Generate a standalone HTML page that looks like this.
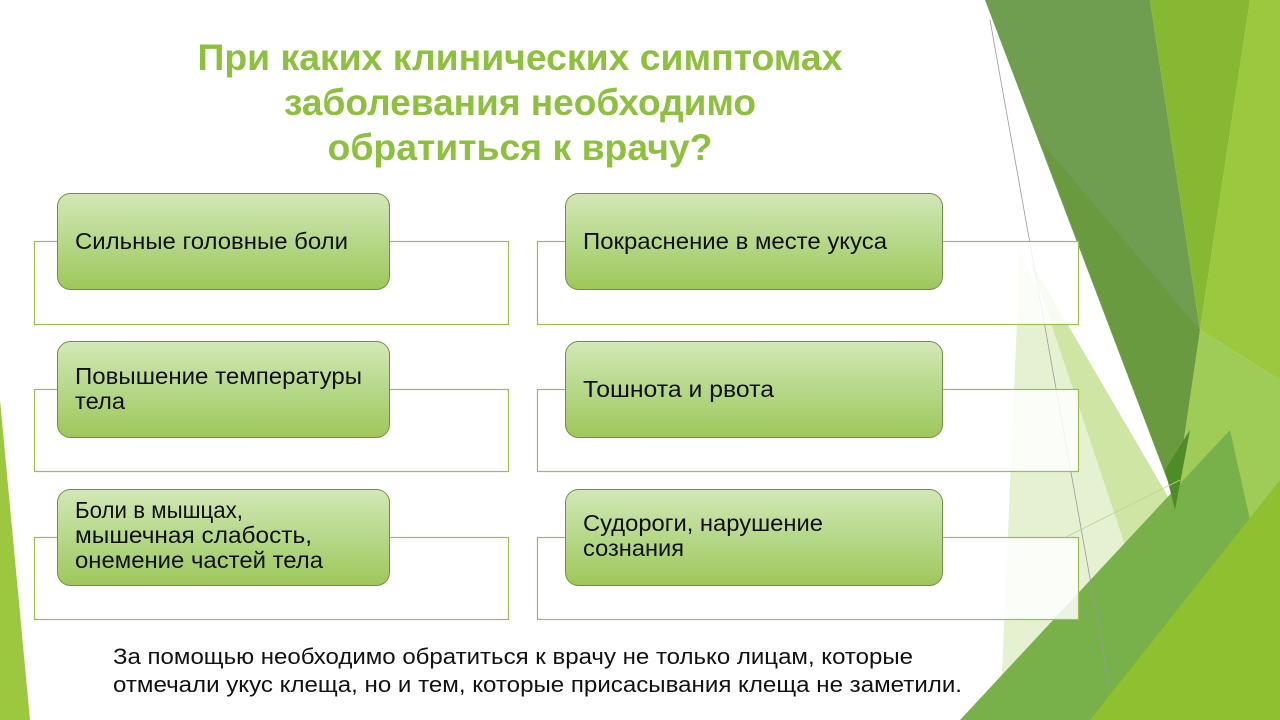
<!DOCTYPE html>
<html><head><meta charset="utf-8"><style>
html,body{margin:0;padding:0;background:#fff;}
svg{display:block;}
text{font-family:"Liberation Sans",sans-serif;}
</style></head><body>
<svg width="1280" height="720" viewBox="0 0 1280 720" xmlns="http://www.w3.org/2000/svg">
<defs>
<linearGradient id="g" x1="0" y1="0" x2="0" y2="1">
<stop offset="0" stop-color="#d3e8b7"/><stop offset="0.5" stop-color="#b6d889"/><stop offset="1" stop-color="#9ec75a"/>
</linearGradient>
</defs>
<polygon points="0,400 30,720 0,720" fill="#9bc83e"/>
<polygon points="1020,250 1150,560 1060,640 960,720 1000,720" fill="#e2efcb" opacity="0.9"/>
<polygon points="1030,260 1170,500 1130,560" fill="#cfe5a4"/>
<polygon points="985,0 1150,0 1200,330 1175,500" fill="#6f9e50"/>
<polygon points="1040,140 1200,330 1175,500" fill="#6a9a40"/>
<polygon points="1150,0 1250,0 1200,330" fill="#86b832"/>
<polygon points="1250,0 1280,0 1280,380 1200,330" fill="#9bc83e"/>
<polygon points="1200,330 1280,380 1280,720 1175,500" fill="#9fcc56"/>
<polygon points="960,720 1230,430 1250,520 1100,720" fill="#78b04a"/>
<polygon points="1165,470 1190,430 1175,510" fill="#4e8c28"/>
<polygon points="1090,720 1280,480 1280,720" fill="#8fc030"/>
<line x1="990" y1="20" x2="1110" y2="690" stroke="#999" stroke-width="0.8"/>
<line x1="1060" y1="540" x2="1180" y2="480" stroke="#bcd49a" stroke-width="0.8"/>
<g fill="#8dc03c" font-weight="bold" font-size="37" text-anchor="middle">
<text x="520" y="70" textLength="645" lengthAdjust="spacingAndGlyphs">При каких клинических симптомах</text>
<text x="520" y="115" textLength="472" lengthAdjust="spacingAndGlyphs">заболевания необходимо</text>
<text x="520" y="160" textLength="385" lengthAdjust="spacingAndGlyphs">обратиться к врачу?</text>
</g>
<g fill="#fff" fill-opacity="0.85" stroke="#9dbf4a" stroke-width="1.2">
<rect x="34.5" y="241.5" width="474" height="83"/>
<rect x="537.5" y="241.5" width="541" height="83"/>
<rect x="34.5" y="389.5" width="474" height="82"/>
<rect x="537.5" y="389.5" width="541" height="82"/>
<rect x="34.5" y="537.5" width="474" height="82"/>
<rect x="537.5" y="537.5" width="541" height="82"/>
</g>
<g fill="url(#g)" stroke="#6f8f48" stroke-width="1">
<rect x="57.5" y="193.5" width="332" height="96" rx="13"/>
<rect x="565.5" y="193.5" width="377" height="96" rx="13"/>
<rect x="57.5" y="341.5" width="332" height="96" rx="13"/>
<rect x="565.5" y="341.5" width="377" height="96" rx="13"/>
<rect x="57.5" y="489.5" width="332" height="96" rx="13"/>
<rect x="565.5" y="489.5" width="377" height="96" rx="13"/>
</g>
<g fill="#111" font-size="23">
<text x="75" y="249" textLength="273" lengthAdjust="spacingAndGlyphs">Сильные головные боли</text>
<text x="583" y="249" textLength="304" lengthAdjust="spacingAndGlyphs">Покраснение в месте укуса</text>
<text x="75" y="384" textLength="287" lengthAdjust="spacingAndGlyphs">Повышение температуры</text>
<text x="75" y="409" textLength="50" lengthAdjust="spacingAndGlyphs">тела</text>
<text x="583" y="397" textLength="191" lengthAdjust="spacingAndGlyphs">Тошнота и  рвота</text>
<text x="75" y="518" textLength="168" lengthAdjust="spacingAndGlyphs">Боли в мышцах,</text>
<text x="75" y="543" textLength="237" lengthAdjust="spacingAndGlyphs">мышечная слабость,</text>
<text x="75" y="568" textLength="248" lengthAdjust="spacingAndGlyphs">онемение частей тела</text>
<text x="583" y="531" textLength="240" lengthAdjust="spacingAndGlyphs">Судороги, нарушение</text>
<text x="583" y="556" textLength="101" lengthAdjust="spacingAndGlyphs">сознания</text>
</g>
<g fill="#111" font-size="22">
<text x="113" y="664" textLength="800" lengthAdjust="spacingAndGlyphs">За  помощью необходимо обратиться к врачу не только лицам, которые</text>
<text x="113" y="692" textLength="849" lengthAdjust="spacingAndGlyphs">отмечали укус клеща, но и тем, которые присасывания клеща не заметили.</text>
</g>
</svg>
</body></html>
